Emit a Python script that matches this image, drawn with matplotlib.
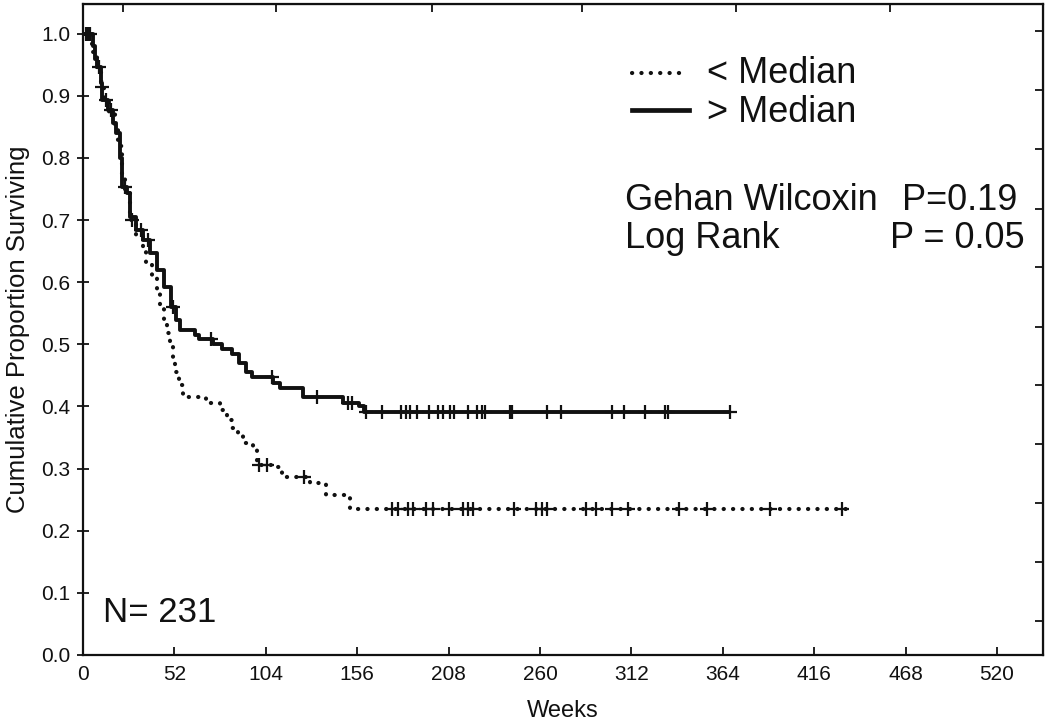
import matplotlib

matplotlib.use("Agg")
import matplotlib.pyplot as plt  # noqa: E402
import numpy as np  # noqa: E402

# ---- data (weeks, cumulative proportion) ----
above_t = [0, 6, 7, 8, 10, 11, 14, 17, 19, 21, 22, 25, 27, 30, 34, 38, 42, 46, 50,
           53, 55, 64, 66, 74, 79, 85, 89, 93, 96, 108, 112, 125, 148, 157, 160]
above_s = [1.0, 0.98, 0.96, 0.947, 0.92, 0.894, 0.877, 0.857, 0.84, 0.80, 0.754,
           0.744, 0.705, 0.684, 0.668, 0.647, 0.62, 0.593, 0.56, 0.54, 0.523,
           0.515, 0.508, 0.50, 0.492, 0.485, 0.47, 0.455, 0.447, 0.438, 0.43,
           0.415, 0.405, 0.40, 0.391]
above_cens = [2, 4, 9, 13, 16, 24, 33, 37, 51, 73, 107.6, 133, 150.6, 153, 161,
              170, 181, 184, 186, 190, 197, 202, 205, 209, 211, 219, 224, 227, 229,
              243, 244, 264, 272, 301, 308, 320, 331, 333, 368]

below_t = [0, 5, 8, 10, 12, 15, 18, 20, 22, 24, 27, 30, 34, 36, 39, 42, 44, 46,
           48, 49.5, 51, 52.5, 54.5, 57, 70, 78, 82, 85, 88, 91, 96.6, 99, 110,
           113, 129, 138, 152]
below_s = [1.0, 0.97, 0.94, 0.915, 0.89, 0.87, 0.85, 0.82, 0.77, 0.745, 0.70,
           0.675, 0.657, 0.63, 0.609, 0.583, 0.56, 0.54, 0.518, 0.50, 0.475, 0.455,
           0.435, 0.415, 0.405, 0.394, 0.378, 0.365, 0.355, 0.341, 0.33, 0.306,
           0.303, 0.287, 0.277, 0.258, 0.235]
below_cens = [3, 11, 28, 100, 104.5, 126, 176, 179, 185, 188, 195, 199, 208, 216,
              219, 222, 245, 258, 261, 264, 286, 292, 301, 310, 339, 355, 391, 432]
below_end = 435

x_ticks = [0, 52, 104, 156, 208, 260, 312, 364, 416, 468, 520]
y_ticks = [0.0, 0.1, 0.2, 0.3, 0.4, 0.5, 0.6, 0.7, 0.8, 0.9, 1.0]
# unlabelled ticks on the top / right frame (own spacing in the original)
top_ticks = [22.7, 109.8, 198.3, 284.2, 371.7, 459.4]
right_ticks = [0.055, 0.150, 0.245, 0.340, 0.435, 0.528, 0.625, 0.718, 0.814, 0.91, 1.005]

INK = "#111111"
FONT = ["Liberation Sans", "DejaVu Sans"]
BIG = 26


def step_at(t, s, x):
    t = np.asarray(t, dtype=float)
    s = np.asarray(s, dtype=float)
    idx = np.searchsorted(t, np.asarray(x, dtype=float), side="right") - 1
    return s[idx]


def km(ax, t, s, cens, end, ls, lw):
    ax.step(np.r_[t, end], np.r_[s, s[-1]], where="post", color=INK, lw=lw,
            ls=ls, solid_capstyle="butt", dash_capstyle="round", zorder=3)
    ax.plot(cens, step_at(t, s, cens), ls="none", marker="+", ms=10, mew=1.6,
            color=INK, zorder=4)


fig = plt.figure(figsize=(10.5, 7.25), dpi=100)
ax = fig.add_axes([0.079, 0.0966, 0.914, 0.898])

km(ax, below_t, below_s, below_cens, below_end, (0, (0.05, 2.2)), 3.0)
km(ax, above_t, above_s, above_cens, max(above_cens), "-", 2.8)

ax.set_xlim(0, 546)
ax.set_ylim(0, 1.048)
ax.set_xticks(x_ticks)
ax.set_yticks(y_ticks)
ax.set_xticklabels([str(v) for v in x_ticks], family=FONT, fontsize=15)
ax.set_yticklabels([f"{v:.1f}" for v in y_ticks], family=FONT, fontsize=15)
ax.tick_params(axis="x", direction="in", length=6, width=1.3, pad=7, colors=INK)
ax.tick_params(axis="y", direction="inout", length=8, width=1.3, pad=5, colors=INK)
for sp in ax.spines.values():
    sp.set_linewidth(1.6)
    sp.set_color(INK)

top = ax.secondary_xaxis("top")
top.set_xticks(top_ticks)
top.set_xticklabels([])
top.tick_params(direction="in", length=6, width=1.3, colors=INK)
right = ax.secondary_yaxis("right")
right.set_yticks(right_ticks)
right.set_yticklabels([])
right.tick_params(direction="in", length=6, width=1.3, colors=INK)

ax.set_xlabel("Weeks", family=FONT, fontsize=17, labelpad=12, color=INK)
ax.set_ylabel("Cumulative Proportion Surviving", family=FONT, fontsize=18.5,
              labelpad=8, color=INK)

# legend drawn by hand, as in the original
tr = ax.transAxes
ax.plot([0.572, 0.629], [0.894, 0.894], transform=tr, color=INK, lw=3.0,
        ls=(0, (0.05, 2.2)), dash_capstyle="round")
ax.plot([0.572, 0.632], [0.837, 0.837], transform=tr, color=INK, lw=3.4)
ax.text(0.650, 0.8786, "< Median", transform=tr, va="baseline", family=FONT,
        fontsize=BIG, color=INK)
ax.text(0.650, 0.8187, "> Median", transform=tr, va="baseline", family=FONT,
        fontsize=BIG, color=INK)

ax.text(0.5646, 0.6836, "Gehan Wilcoxin", transform=tr, va="baseline",
        family=FONT, fontsize=BIG, color=INK)
ax.text(0.853, 0.6836, "P=0.19", transform=tr, va="baseline", family=FONT,
        fontsize=BIG, color=INK)
ax.text(0.5646, 0.625, "Log Rank", transform=tr, va="baseline", family=FONT,
        fontsize=BIG, color=INK)
ax.text(0.8406, 0.625, "P = 0.05", transform=tr, va="baseline", family=FONT,
        fontsize=BIG, color=INK)
ax.text(0.021, 0.0507, "N= 231", transform=tr, va="baseline", family=FONT,
        fontsize=25, color=INK)

fig.savefig("out.png", dpi=100)
